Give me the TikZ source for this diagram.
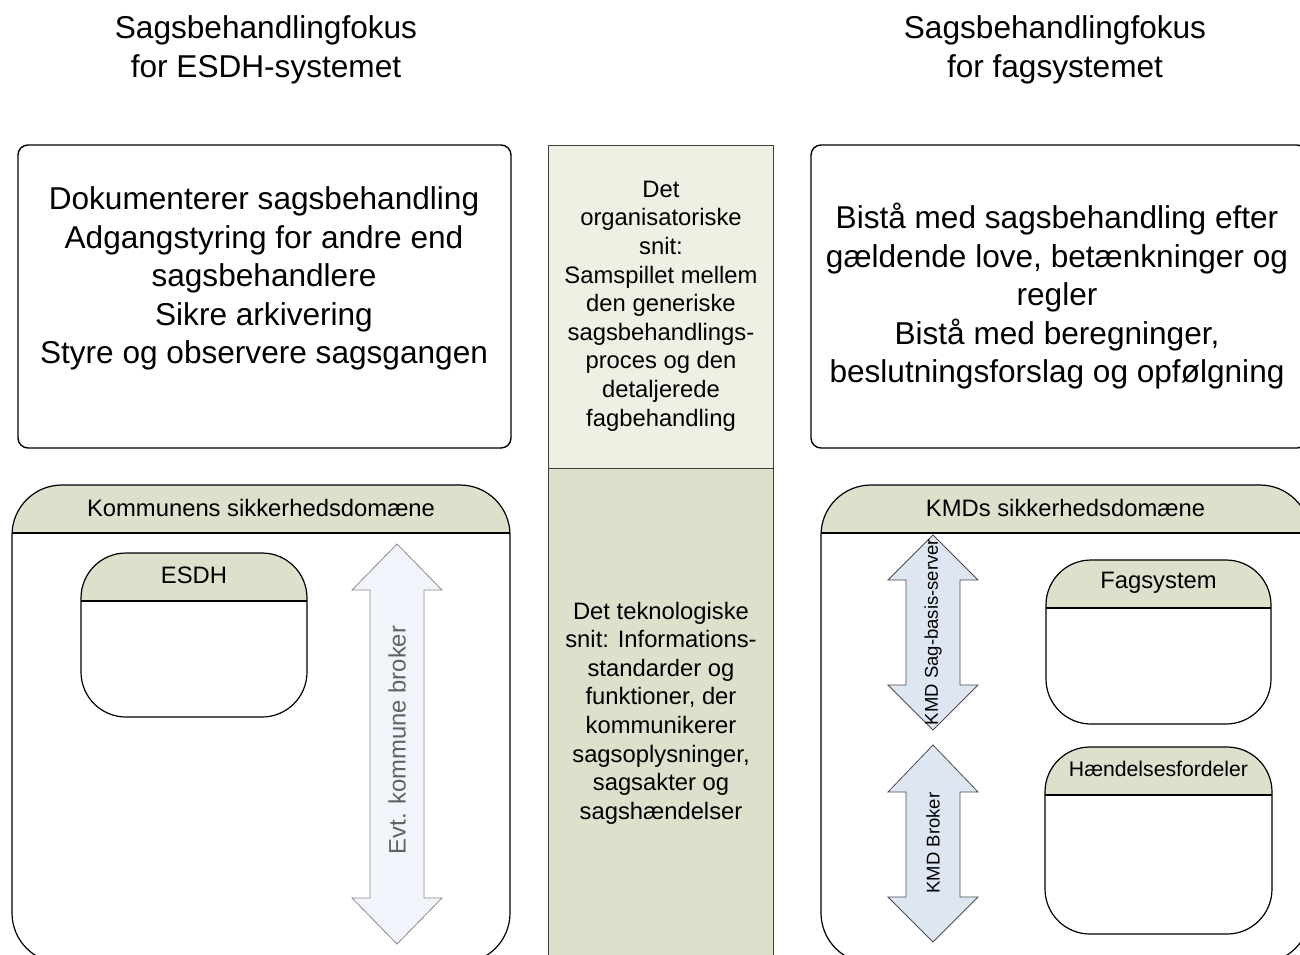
\documentclass[tikz,border=0pt]{standalone}
\usepackage{fontspec}
\setmainfont{Liberation Sans}
\usetikzlibrary{positioning}
\definecolor{hdrgreen}{HTML}{DDE0CB}
\definecolor{palegreen}{HTML}{EEF0E4}
\definecolor{paleblue}{HTML}{F1F4FA}
\definecolor{kmdblue}{HTML}{DFE6F3}
\tikzset{
x=1pt, y=-1pt,
focus/.style={align=center, inner sep=0, font=\fontsize{31.6}{38.5}\selectfont}, % headings and big texts
bigbox/.style={draw, line width=1.4pt, rounded corners=10pt, inner sep=0},
midbox/.style={draw=black!75, line width=0.8pt, inner sep=0},
midtext/.style={align=center, inner sep=0, font=\fontsize{23.8}{28.6}\selectfont},
hdrbox/.style={draw, line width=1.2pt, fill=white, rounded corners=#1, inner sep=0,
  path picture={
    \fill[hdrgreen, sharp corners] (path picture bounding box.north west) rectangle ([yshift=-48pt]path picture bounding box.north east);
    \draw[line width=1.2pt, sharp corners] ([yshift=-48pt]path picture bounding box.north west) -- ([yshift=-48pt]path picture bounding box.north east);
  }},
hdrtext/.style={inner sep=0, font=\fontsize{23.8}{28}\selectfont},
brokerarrow/.style={draw=black!45, fill=paleblue, line width=0.8pt, line join=miter},
kmdarrow/.style={draw=black!70, fill=kmdblue, line width=0.8pt, line join=miter},
}
\begin{document}
\begin{tikzpicture}
\clip (0,0) rectangle (1300,954);
\fill[white] (0,0) rectangle (1300,954);

% headings
\node[focus] (esdh-focus) at (266,50) {Sagsbehandlingfokus\\for ESDH-systemet};
\node[focus] (fag-focus) at (1055,50) {Sagsbehandlingfokus\\for fagsystemet};

% top boxes
\node[bigbox, minimum width=493, minimum height=303] (esdh-top) at (264.5,296.5) {};
\node[focus] (esdh-top-t) at (264,278.5) {Dokumenterer sagsbehandling\\Adgangstyring for andre end\\sagsbehandlere\\Sikre arkivering\\Styre og observere sagsgangen};
\node[bigbox, minimum width=496, minimum height=303] (fag-top) at (1059,296.5) {};
\node[focus] (fag-top-t) at (1057,296.5) {Bistå med sagsbehandling efter\\gældende love, betænkninger og\\regler\\Bistå med beregninger,\\beslutningsforslag og opfølgning};

% middle column
\node[midbox, fill=palegreen, minimum width=225, minimum height=323] (org) at (660.5,306.5) {};
\node[midtext] (org-t) at (661,306) {Det\\organisatoriske\\snit:\\Samspillet mellem\\den generiske\\sagsbehandlings-\\proces og den\\detaljerede\\fagbehandling};
\node[midbox, fill=hdrgreen, minimum width=225, minimum height=500] (tek) at (660.5,718) {};
\node[midtext] (tek-t) at (661,713) {Det teknologiske\\snit: Informations-\\standarder og\\funktioner, der\\kommunikerer\\sagsoplysninger,\\sagsakter og\\sagshændelser};

% security domains
\node[hdrbox=50pt, minimum width=498, minimum height=478] (kom) at (261,724) {};
\node[hdrtext] (kom-h) at ([yshift=-24pt]kom.north) {Kommunens sikkerhedsdomæne};
\node[hdrbox=50pt, minimum width=489, minimum height=478] (kmd) at (1065.5,724) {};
\node[hdrtext] (kmd-h) at ([yshift=-24pt]kmd.north) {KMDs sikkerhedsdomæne};

% systems
\node[hdrbox=45pt, minimum width=226, minimum height=164] (esdh) at (194,635) {};
\node[hdrtext] (esdh-h) at ([yshift=-23pt]esdh.north) {ESDH};
\node[hdrbox=45pt, minimum width=225, minimum height=164] (fag) at (1158.5,642) {};
\node[hdrtext] (fag-h) at ([yshift=-23pt]fag.north) {Fagsystem};
\node[hdrbox=45pt, minimum width=227, minimum height=187] (hf) at (1158.5,840.5) {};
\node[hdrtext, font=\fontsize{21.2}{25}\selectfont] (hf-h) at ([yshift=-23pt]hf.north) {Hændelsesfordeler};

% brokers
\draw[brokerarrow] (397,544) -- (442,590) -- (424,590) -- (424,898) -- (442,898) -- (397,944)
  -- (352,898) -- (370,898) -- (370,590) -- (352,590) -- cycle;
\node[hdrtext, rotate=90, text=black!62] (kom-broker) at (397,740) {Evt. kommune broker};
\draw[kmdarrow] (933,535) -- (978,580) -- (960,580) -- (960,685) -- (978,685) -- (933,730)
  -- (888,685) -- (906,685) -- (906,580) -- (888,580) -- cycle;
\node[hdrtext, rotate=90, font=\fontsize{18.5}{22}\selectfont] (sag-server) at (933,632) {KMD Sag-basis-server};
\draw[kmdarrow] (933,745) -- (978,792) -- (960,792) -- (960,897) -- (978,897) -- (933,942)
  -- (888,897) -- (906,897) -- (906,792) -- (888,792) -- cycle;
\node[hdrtext, rotate=90, font=\fontsize{18.5}{22}\selectfont] (kmd-broker) at (933,843) {KMD Broker};
\end{tikzpicture}
\end{document}
